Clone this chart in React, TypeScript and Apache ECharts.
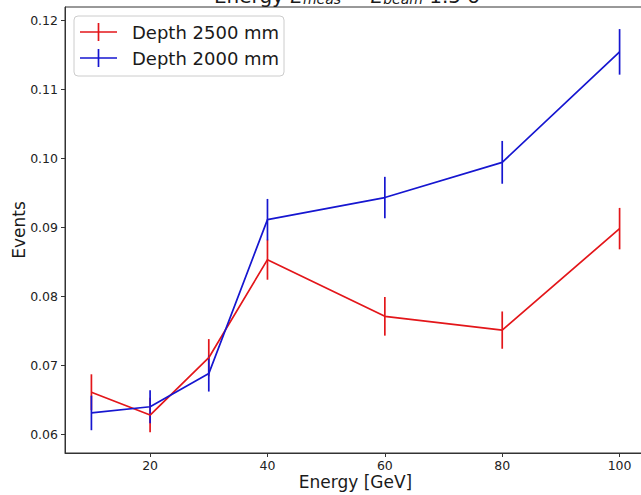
import React, { useEffect, useRef } from "react";
import * as echarts from "echarts";

// Beam energies [GeV]
const energies = [10, 20, 30, 40, 60, 80, 100];

// Fraction of events per depth setting, with symmetric uncertainties
const depth2500 = [0.0661, 0.0628, 0.0711, 0.0853, 0.0771, 0.0751, 0.0898];
const err2500 = [0.0026, 0.0025, 0.0027, 0.0029, 0.0028, 0.0027, 0.003];
const depth2000 = [0.0631, 0.064, 0.0688, 0.0911, 0.0943, 0.0994, 0.1154];
const err2000 = [0.0025, 0.0024, 0.0026, 0.003, 0.003, 0.0031, 0.0033];

const xTicks = [20, 40, 60, 80, 100];
const yTicks = [0.06, 0.07, 0.08, 0.09, 0.1, 0.11, 0.12];

const seriesNames = ["Depth 2500 mm", "Depth 2000 mm"];
const RED = "#e3161a";
const BLUE = "#1616d0";
const FONT = "DejaVu Sans";

function errorBars(name: string, values: number[], errs: number[], color: string) {
  return {
    type: "custom",
    name,
    data: energies.map((e, i) => [e, values[i], errs[i]]),
    renderItem: (_params: any, api: any) => {
      const x = api.value(0);
      const y = api.value(1);
      const e = api.value(2);
      const p1 = api.coord([x, y - e]);
      const p2 = api.coord([x, y + e]);
      return {
        type: "line",
        shape: { x1: p1[0], y1: p1[1], x2: p2[0], y2: p2[1] },
        style: { stroke: color, lineWidth: 1.7 },
      };
    },
    silent: true,
  };
}

function lineSeries(name: string, values: number[], color: string) {
  return {
    type: "line",
    name,
    data: energies.map((e, i) => [e, values[i]]),
    symbol: "none",
    lineStyle: { color, width: 1.7 },
    itemStyle: { color },
  };
}

// Legend entry: horizontal line with a vertical error-bar stroke, then the label
function legendItem(label: string, color: string, cy: number) {
  return [
    { type: "line", z: 101, shape: { x1: 80, y1: cy, x2: 117, y2: cy }, style: { stroke: color, lineWidth: 1.7 } },
    { type: "line", z: 101, shape: { x1: 98.5, y1: cy - 9, x2: 98.5, y2: cy + 9 }, style: { stroke: color, lineWidth: 1.7 } },
    {
      type: "text",
      z: 101,
      style: { x: 132, y: cy, text: label, font: `18px "${FONT}"`, fill: "#1a1a1a", textVerticalAlign: "middle" },
    },
  ];
}

export default function App() {
  const ref = useRef<HTMLDivElement>(null);

  useEffect(() => {
    if (!ref.current) return;
    const chart = echarts.init(ref.current, null, { renderer: "svg" });

    const axisCommon = {
      axisLine: { show: true, onZero: false, lineStyle: { color: "#333", width: 1 } },
      axisTick: { show: true, inside: false, length: 4, lineStyle: { color: "#333" } },
      splitLine: { show: false },
    };

    chart.setOption({
      animation: false,
      backgroundColor: "#ffffff",
      textStyle: { fontFamily: FONT },
      grid: {
        left: 65,
        right: -5,
        top: 7,
        bottom: 42,
        containLabel: false,
        outerBoundsMode: "none",
        show: true,
        borderColor: "#333",
        borderWidth: 1,
        backgroundColor: "transparent",
      },
      xAxis: {
        type: "value",
        min: 5.5,
        max: 104.5,
        ...axisCommon,
        axisTick: { ...axisCommon.axisTick, customValues: xTicks },
        axisLabel: {
          customValues: xTicks,
          fontSize: 12.5,
          color: "#222",
          margin: 6,
          fontFamily: FONT,
        },
        name: "Energy [GeV]",
        nameLocation: "middle",
        nameGap: 20,
        nameMoveOverlap: false,
        nameTextStyle: { fontSize: 17, color: "#1a1a1a", fontFamily: FONT },
      },
      yAxis: {
        type: "value",
        min: 0.0573,
        max: 0.1219,
        ...axisCommon,
        axisTick: { ...axisCommon.axisTick, customValues: yTicks },
        axisLabel: {
          customValues: yTicks,
          fontSize: 12.5,
          color: "#222",
          margin: 7,
          fontFamily: FONT,
          formatter: (v: number) => v.toFixed(2),
        },
        name: "Events",
        nameLocation: "middle",
        nameGap: 38,
        nameMoveOverlap: false,
        nameTextStyle: { fontSize: 17, color: "#1a1a1a", fontFamily: FONT },
      },
      series: [
        lineSeries(seriesNames[0], depth2500, RED),
        errorBars(seriesNames[0], depth2500, err2500, RED),
        lineSeries(seriesNames[1], depth2000, BLUE),
        errorBars(seriesNames[1], depth2000, err2000, BLUE),
      ],
      graphic: [
        {
          type: "text",
          z: 100,
          style: {
            x: 347,
            y: -4,
            text: "Energy {it|E}{sub|meas} − {it|E}{sub|beam} 1.5 σ",
            font: `20px "${FONT}"`,
            fill: "#1a1a1a",
            textAlign: "center",
            textVerticalAlign: "middle",
            rich: {
              it: { fontStyle: "italic", fontSize: 20, fontFamily: FONT },
              sub: { fontStyle: "italic", fontSize: 14, fontFamily: FONT, verticalAlign: "bottom", lineHeight: 14 },
            },
          },
        },
        {
          type: "rect",
          z: 100,
          shape: { x: 74, y: 16, width: 210, height: 60, r: 4 },
          style: { fill: "rgba(255,255,255,0.85)", stroke: "#cccccc", lineWidth: 1 },
        },
        ...legendItem(seriesNames[0], RED, 32),
        ...legendItem(seriesNames[1], BLUE, 58),
      ],
    });

    return () => chart.dispose();
  }, []);

  return (
    <div
      ref={ref}
      style={{ position: "fixed", left: 0, top: 0, width: 641, height: 495, background: "#fff" }}
    />
  );
}
